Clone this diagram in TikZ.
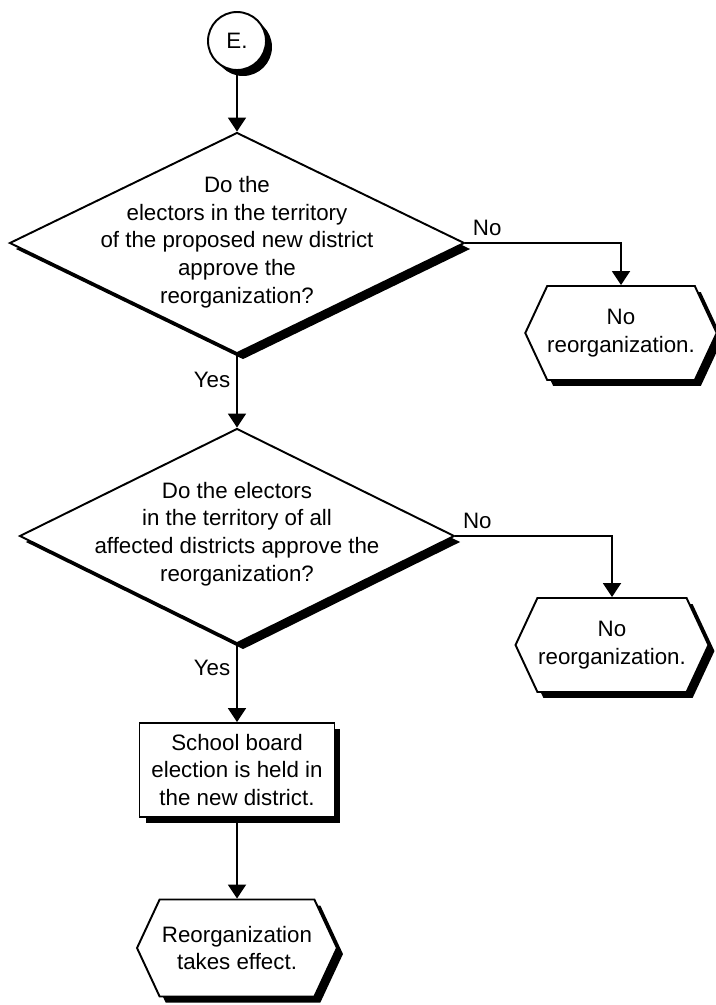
\documentclass[tikz,border=0pt]{standalone}
\usepackage{fontspec}
\setmainfont{Liberation Sans}
\usepackage{tikz}
\usetikzlibrary{shapes.geometric, shapes.symbols, arrows.meta, shadows}

\begin{document}
\begin{tikzpicture}[x=0.02cm, y=-0.02cm,
  every node/.style={font=\fontsize{12.7}{15.8}\selectfont},
  shadebox/.style={draw, line width=1.1pt, fill=white,
    drop shadow={shadow xshift=0.12cm, shadow yshift=-0.12cm, fill=black, opacity=1}},
  decision/.style={shadebox, diamond, inner sep=0pt},
  endbox/.style={shadebox, signal, signal to=west and east, signal pointer angle=130,
    align=center, inner sep=0pt},
  flow/.style={line width=1.1pt, -{Triangle[width=0.36cm, length=0.28cm]}}]
\useasboundingbox (0,0) rectangle (716,1005);
\node[shadebox, circle, minimum size=1.16cm, inner sep=0pt] (start) at (237,41) {E.};
\node[decision, minimum width=9.1cm, minimum height=4.42cm] (q1) at (237,243) {};
\node[align=center] (q1text) at (237,242) {Do the\\electors in the territory\\of the proposed new district\\approve the\\reorganization?};
\node[endbox, minimum width=3.74cm, minimum height=1.88cm] (no1) at (621,333) {No\\reorganization.};
\node[decision, minimum width=8.7cm, minimum height=4.3cm] (q2) at (237,536) {};
\node[align=center] (q2text) at (237,534) {Do the electors\\in the territory of all\\affected districts approve the\\reorganization?};
\node[endbox, minimum width=3.86cm, minimum height=1.88cm] (no2) at (612,645) {No\\reorganization.};
\node[shadebox, rectangle, minimum width=3.9cm, minimum height=1.88cm, align=center, inner sep=0pt] (board) at (237,770) {School board\\election is held in\\the new district.};
\node[endbox, minimum width=4cm, minimum height=1.94cm] (done) at (237,948) {Reorganization\\takes effect.};
\draw[flow] (start) -- (q1);
\draw[flow] (q1.east) -| node[pos=0.07, above] {No} (no1);
\draw[flow] (q1) -- node[pos=0.35, left] {Yes} (q2);
\draw[flow] (q2.east) -| node[pos=0.07, above] {No} (no2);
\draw[flow] (q2) -- node[pos=0.3, left] {Yes} (board);
\draw[flow] (board) -- (done);
\end{tikzpicture}
\end{document}
